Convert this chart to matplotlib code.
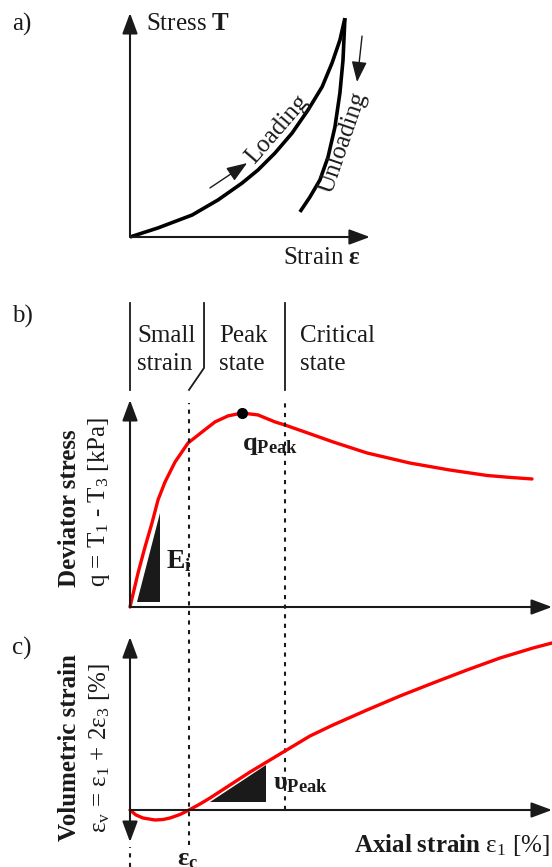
import matplotlib
matplotlib.use('Agg')
import matplotlib.pyplot as plt

plt.rcParams['font.family'] = ['Liberation Serif', 'DejaVu Serif']
plt.rcParams['mathtext.fontset'] = 'custom'
plt.rcParams['mathtext.rm'] = 'Liberation Serif'
plt.rcParams['mathtext.it'] = 'Liberation Serif:italic'
plt.rcParams['mathtext.bf'] = 'Liberation Serif:bold'

# ---------------- data ----------------
# panel a (normalised strain / stress)
a_load_strain = [0, .118, .261, .370, .471, .538, .609, .681, .748, .807, .849, .882, .903]
a_load_stress = [0, .041, .099, .167, .243, .302, .378, .468, .572, .676, .784, .887, .986]
a_unload_strain = [.903, .895, .882, .861, .832, .798, .756, .714]
a_unload_stress = [.986, .797, .649, .495, .360, .257, .180, .113]

# panel b: axial strain [%] vs deviator stress q [kPa]
b_strain = [0, .190, .355, .521, .664, .829, 1.066, 1.374, 1.706, 2.014, 2.322, 2.654,
            3.033, 3.436, 3.673, 4.147, 4.810, 5.616, 6.635, 7.583, 8.460, 9.005, 9.526]
b_q = [0, 17.5, 30.9, 43.3, 55.2, 64.4, 74.7, 84.5, 90.2, 95.4, 98.5, 100,
       99.0, 95.4, 93.8, 90.2, 85.1, 79.4, 74.2, 70.6, 67.8, 66.8, 66.0]
peak_strain, peak_q = 2.654, 100

# panel c: axial strain [%] vs volumetric strain [%]
c_strain = [0, .142, .308, .592, .782, .948, 1.185, 1.398, 1.659, 1.896, 2.370, 2.844,
            3.318, 3.673, 4.265, 4.810, 5.616, 6.398, 7.180, 7.986, 8.768, 9.550, 10.0]
c_ev = [0, -.303, -.485, -.606, -.576, -.485, -.273, 0, .364, .727, 1.515, 2.303,
        3.030, 3.576, 4.485, 5.152, 6.061, 6.909, 7.697, 8.485, 9.212, 9.818, 10.121]

eps_c = 1.398          # end of small strain / zero dilatancy
eps_crit = 3.673       # start of critical state

tri_b_strain = [.166, .711, .711]
tri_b_q = [2.6, 2.6, 48.5]
tri_c_strain = [1.896, 3.223, 3.223]
tri_c_ev = [.485, .485, 2.727]

# ---------------- figure ----------------
W, H = 552, 867
fig = plt.figure(figsize=(W / 100, H / 100), dpi=100)
K = '#1a1a1a'
RED = '#ff0000'
FS = 18


def panel_axes(x_px0, x_scale, y_px0, y_scale):
    ax = fig.add_axes([0, 0, 1, 1])
    ax.set_xlim((0 - x_px0) / x_scale, (W - x_px0) / x_scale)
    ax.set_ylim((y_px0 - H) / y_scale, y_px0 / y_scale)
    ax.axis('off')
    ax.patch.set_alpha(0)
    return ax


def arrow(ax, start, end, style='-|>', lw=1.5, color=K, ms=18):
    ax.annotate('', xy=end, xytext=start, xycoords='data', textcoords='data',
                arrowprops=dict(arrowstyle=f'{style},head_length=0.7,head_width=0.26',
                                lw=lw, color=color, shrinkA=0, shrinkB=0,
                                mutation_scale=ms),
                annotation_clip=False)


def ftext(x, y, s, **kw):
    kw.setdefault('fontsize', FS)
    kw.setdefault('color', K)
    fig.text(x / W, 1 - y / H, s, **kw)


# ---- panel a ----
ax_a = panel_axes(130, 238, 237, 222)
arrow(ax_a, (0, 0), (0, 1.009))
arrow(ax_a, (0, 0), (1.008, 0))
ax_a.plot(a_load_strain, a_load_stress, color='black', lw=2.6,
          solid_capstyle='butt', solid_joinstyle='round')
ax_a.plot(a_unload_strain, a_unload_stress, color='black', lw=2.6,
          solid_capstyle='butt', solid_joinstyle='round')
arrow(ax_a, (.336, .221), (.492, .333), lw=1.0)
arrow(ax_a, (.975, .905), (.954, .698), lw=1.0)

ftext(12, 31, 'a)', va='baseline')
ftext(146, 30, r'Stress $\mathbf{T}$', va='baseline')
ftext(283, 264, r'Strain $\mathbf{ε}$', va='baseline')
ftext(277, 129, 'Loading', rotation=49, ha='center', va='center', rotation_mode='anchor')
ftext(343, 143, 'Unloading', rotation=71, ha='center', va='center', rotation_mode='anchor')

# ---- panel b ----
ax_b = panel_axes(130, 42.2, 607, 1.94)
arrow(ax_b, (0, 0), (0, 106.7))
arrow(ax_b, (0, 0), (10.0, 0))
ax_b.fill(tri_b_strain, tri_b_q, color=K, lw=0)
ax_b.plot(b_strain, b_q, color=RED, lw=2.4, solid_capstyle='round', solid_joinstyle='round')
ax_b.plot(peak_strain, peak_q, 'o', color='black', ms=7)
# region separators
ax_b.plot([0, 0], [156.7, 111.9], color=K, lw=1.3, clip_on=False)
ax_b.plot([1.754, 1.754, eps_c], [156.7, 123.2, 111.9], color=K, lw=1.3, clip_on=False)
ax_b.plot([eps_crit, eps_crit], [156.7, 111.9], color=K, lw=1.3, clip_on=False)
# dashed guide lines (figure-height fractions)
ax_b.axvline(eps_c, ymin=1 - 845 / H, ymax=1 - 403 / H, color=K, lw=1.5, ls=(0, (2, 2.6)))
ax_b.axvline(eps_crit, ymin=1 - 810 / H, ymax=1 - 403 / H, color=K, lw=1.5, ls=(0, (2, 2.6)))
ax_b.axvline(0, ymin=0, ymax=1 - 847 / H, color=K, lw=1.5, ls=(0, (2, 2.6)))

ftext(12, 323, 'b)', va='baseline')
ftext(137, 342, 'Small', va='baseline')
ftext(137, 370, 'strain', va='baseline')
ftext(219, 342, 'Peak', va='baseline')
ftext(219, 370, 'state', va='baseline')
ftext(300, 342, 'Critical', va='baseline')
ftext(300, 370, 'state', va='baseline')
ftext(242, 450, r'$\mathbf{q}_{\mathbf{Peak}}$', va='baseline', fontsize=19)
ftext(166, 568, r'$\mathbf{E}_{\mathbf{i}}$', va='baseline', fontsize=20)
ftext(70, 508, 'Deviator stress', rotation=90, ha='center', va='center', fontweight='bold')
ftext(99, 502, r'q = T$_1$ - T$_3$ [kPa]', rotation=90, ha='center', va='center')

# ---- panel c ----
ax_c = panel_axes(130, 42.2, 810, 16.5)
arrow(ax_c, (0, -1.94), (0, 10.48), style='<|-|>')
arrow(ax_c, (0, 0), (10.0, 0))
ax_c.fill(tri_c_strain, tri_c_ev, color=K, lw=0)
ax_c.plot(c_strain, c_ev, color=RED, lw=2.4, solid_capstyle='round', solid_joinstyle='round')

ftext(12, 655, 'c)', va='baseline')
ftext(273, 789, r'$\mathbf{υ}_{\mathbf{Peak}}$', va='baseline', fontsize=19)
ftext(188, 849, r'$\mathbf{ε}_{\mathbf{c}}$', ha='center', va='top', fontsize=19)
ftext(550, 852, r'$\mathbf{Axial\ strain}$ ε$_1$ [%]', ha='right', va='baseline')
ftext(70, 748, 'Volumetric strain', rotation=90, ha='center', va='center', fontweight='bold')
ftext(99, 748, r'ε$_\mathrm{v}$ = ε$_1$ + 2ε$_3$ [%]', rotation=90, ha='center', va='center')

fig.savefig('out.png', dpi=100)
